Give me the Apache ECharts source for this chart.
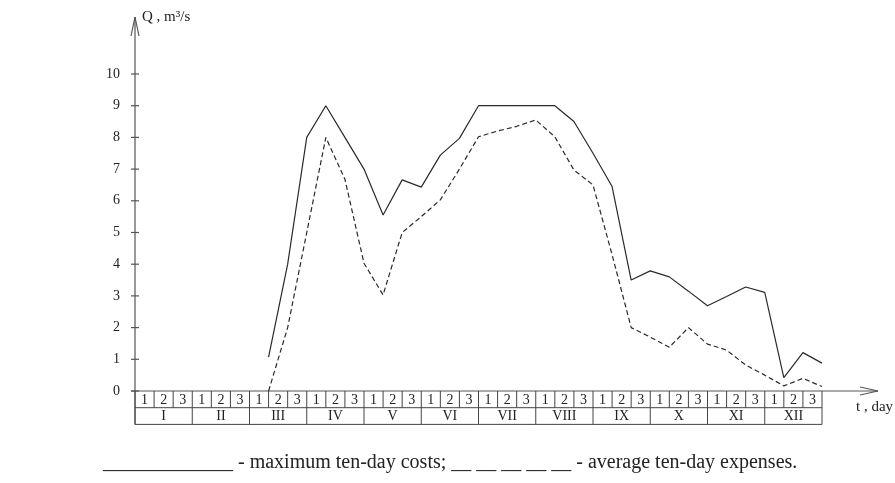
<!DOCTYPE html>
<html>
<head>
<meta charset="utf-8">
<script src="https://cdn.jsdelivr.net/npm/echarts@6/dist/echarts.min.js"></script>
<style>
  html, body { margin: 0; padding: 0; background: #fff; }
  #chart { width: 895px; height: 483px; }
</style>
</head>
<body>
<div id="chart"></div>
<script>
// Ten-day period boundaries (0 = start of January, 36 = end of December)
const periods = [7, 8, 9, 10, 11, 12, 13, 14, 15, 16, 17, 18, 19, 20, 21, 22,
                 23, 24, 25, 26, 27, 28, 29, 30, 31, 32, 33, 34, 35, 36];
// Maximum ten-day discharge, m3/s
const maxFlow = [1.07, 4.0, 8.0, 9.0, 8.0, 7.0, 5.55, 6.66, 6.43, 7.44, 7.97, 9.0, 9.0, 9.0, 9.0, 9.0,
                 8.5, 7.5, 6.45, 3.5, 3.79, 3.6, 3.15, 2.69, 2.98, 3.28, 3.11, 0.42, 1.21, 0.88];
// Average ten-day discharge, m3/s
const avgFlow = [0.0, 2.0, 5.0, 8.0, 6.68, 4.03, 3.03, 5.0, 5.5, 6.03, 7.0, 8.02, 8.2, 8.35, 8.55, 8.02,
                 6.97, 6.5, 4.3, 2.0, 1.7, 1.38, 2.0, 1.48, 1.29, 0.82, 0.5, 0.16, 0.4, 0.14];
// Table rows under the time axis
const decadeLabels = ['1', '2', '3'];
const months = ['I', 'II', 'III', 'IV', 'V', 'VI', 'VII', 'VIII', 'IX', 'X', 'XI', 'XII'];
const yTicks = [0, 1, 2, 3, 4, 5, 6, 7, 8, 9, 10];

const FONT = '"Liberation Serif", "DejaVu Serif", serif';
const AXIS_COLOR = '#555';
const LINE_COLOR = '#2a2a2a';

const chart = echarts.init(document.getElementById('chart'), null, { renderer: 'canvas' });

chart.setOption({
  animation: false,
  backgroundColor: '#fff',
  grid: { left: 135, right: 73, top: 74, bottom: 92, containLabel: false },
  xAxis: {
    type: 'value', min: 0, max: 36, interval: 1,
    axisLine: { show: false }, axisTick: { show: false },
    axisLabel: { show: false }, splitLine: { show: false }
  },
  yAxis: {
    type: 'value', min: 0, max: 10, interval: 1,
    axisLine: { show: false }, axisTick: { show: false }, splitLine: { show: false },
    axisLabel: { margin: 15, color: '#222', fontFamily: FONT, fontSize: 14 }
  },
  series: [
    {
      name: 'maximum', type: 'line', symbol: 'none',
      data: periods.map((p, i) => [p, maxFlow[i]]),
      lineStyle: { color: LINE_COLOR, width: 1.2 }
    },
    {
      name: 'average', type: 'line', symbol: 'none',
      data: periods.map((p, i) => [p, avgFlow[i]]),
      lineStyle: { color: LINE_COLOR, width: 1.2, type: [5, 3] }
    }
  ]
});

// Axes with arrows, tick marks and the ten-day / month table
function px(x, y) { return chart.convertToPixel({ gridIndex: 0 }, [x, y]); }
const origin = px(0, 0);
const endX = px(36, 0)[0];
const x0 = origin[0], y0 = origin[1];
const rowH = 16.7;
const lineStyle = { stroke: AXIS_COLOR, lineWidth: 1.2 };
const tableStyle = { stroke: '#444', lineWidth: 1 };
const g = [];

function seg(x1, y1, x2, y2, style) {
  g.push({ type: 'line', shape: { x1, y1, x2, y2 }, style: Object.assign({}, style), silent: true });
}
function label(text, x, y, size, align) {
  g.push({ type: 'text', x, y, silent: true,
    style: { text, fill: '#222', font: size + 'px ' + FONT, textAlign: align || 'center', textVerticalAlign: 'middle' } });
}

// vertical axis with arrow
seg(x0, y0 + 2 * rowH, x0, 17, lineStyle);
seg(x0, 17, x0 - 4, 36, lineStyle);
seg(x0, 17, x0 + 4, 36, lineStyle);
yTicks.forEach(v => { const p = px(0, v); seg(x0 - 4, p[1], x0 + 4, p[1], lineStyle); });
label('Q , m\u00B3/s', x0 + 7, 17, 15, 'left');

// horizontal axis with arrow
seg(x0 - 4, y0, 878, y0, lineStyle);
seg(878, y0, 860, y0 - 4, lineStyle);
seg(878, y0, 860, y0 + 4, lineStyle);
label('t , day', 856, y0 + 16, 15, 'left');

// table rows
seg(x0, y0 + rowH, endX, y0 + rowH, tableStyle);
seg(x0, y0 + 2 * rowH, endX, y0 + 2 * rowH, tableStyle);
for (let k = 0; k <= 36; k++) {
  const x = px(k, 0)[0];
  const bottom = (k % 3 === 0) ? y0 + 2 * rowH : y0 + rowH;
  seg(x, y0, x, bottom, tableStyle);
  if (k < 36) {
    const xc = (x + px(k + 1, 0)[0]) / 2;
    label(decadeLabels[k % 3], xc, y0 + rowH / 2 + 0.5, 14);
  }
}
months.forEach((m, i) => {
  const xc = (px(i * 3, 0)[0] + px(i * 3 + 3, 0)[0]) / 2;
  label(m, xc, y0 + rowH * 1.5 + 0.5, 14);
});

// legend line
label('_____________ - maximum ten-day costs; __ __ __ __ __ - average ten-day expenses.', 103, 463, 20, 'left');

chart.setOption({ graphic: g });
</script>
</body>
</html>
